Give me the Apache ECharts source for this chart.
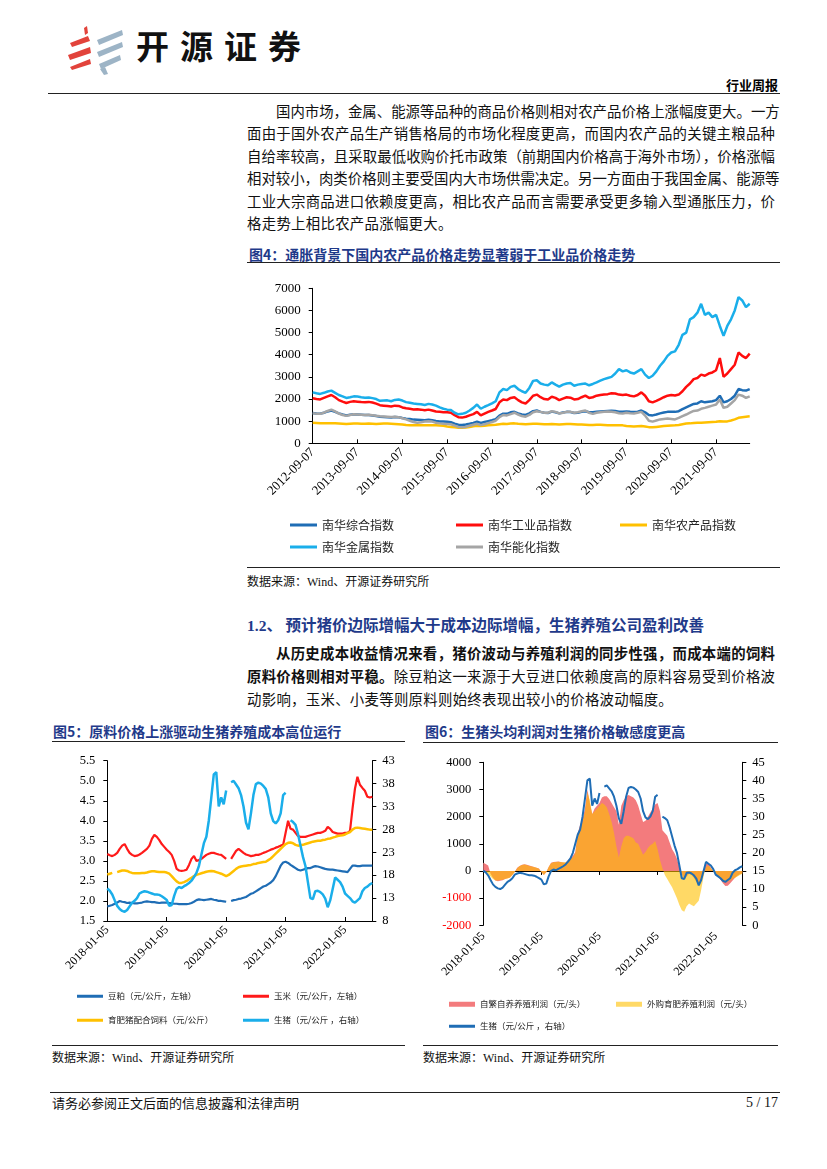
<!DOCTYPE html>
<html lang="zh-CN">
<head>
<meta charset="utf-8">
<title>行业周报</title>
<script src="https://cdn.jsdelivr.net/npm/echarts@6.0.0/dist/echarts.min.js"></script>
<style>
html,body{margin:0;padding:0;background:#fff;}
body{width:827px;height:1169px;position:relative;overflow:hidden;font-family:"Noto Sans CJK SC",sans-serif;color:#000;}
.a{position:absolute;white-space:nowrap;}
.ln{position:absolute;height:18px;line-height:18px;font-size:14.4px;text-align:justify;text-align-last:justify;white-space:nowrap;color:#111;}
.hr{position:absolute;height:0;border-top:1.5px solid #222;}
.ttl{position:absolute;white-space:nowrap;font-size:14px;line-height:16px;font-weight:bold;color:#1F3A8A;}
.src{position:absolute;white-space:nowrap;font-size:12px;line-height:14px;color:#111;}
.lat{font-family:"Liberation Serif",serif;}
#c{position:absolute;left:0;top:0;width:827px;height:1169px;}
</style>
</head>
<body>
<!-- header -->
<svg class="a" style="left:64px;top:24px" width="64" height="52" viewBox="0 0 64 52">
  <polygon points="20,4 23,2 24,9 21,11" fill="#E2433B"/>
  <polygon points="6,19 24,12 26,17 8,23" fill="#E2433B"/>
  <polygon points="4,31 26,23 27,29 6,36" fill="#E2433B"/>
  <polygon points="6,43 26,35 27,40 8,46" fill="#E2433B"/>
  <polygon points="33,16 58,6 59,11 35,21" fill="#9DB4C6"/>
  <polygon points="33,28 58,18 59,23 35,33" fill="#9DB4C6"/>
  <polygon points="35,40 56,31 57,36 37,45" fill="#9DB4C6"/>
  <polygon points="36,45 41,43 44,50 40,51" fill="#9DB4C6"/>
</svg>
<div class="a" style="left:136px;top:28px;font-size:33px;line-height:34px;font-weight:bold;letter-spacing:11px;color:#111;">开源证券</div>
<div class="a" style="right:49px;top:77px;font-size:13px;line-height:15px;font-weight:bold;">行业周报</div>
<div class="hr" style="left:48px;top:93px;width:732px;"></div>

<!-- paragraph 1 -->
<div class="ln" style="left:276px;width:499px;top:102px;">国内市场，金属、能源等品种的商品价格则相对农产品价格上涨幅度更大。一方</div>
<div class="ln" style="left:247px;width:528px;top:124px;">面由于国外农产品生产销售格局的市场化程度更高，而国内农产品的关键主粮品种</div>
<div class="ln" style="left:247px;width:528px;top:147px;">自给率较高，且采取最低收购价托市政策（前期国内价格高于海外市场），价格涨幅</div>
<div class="ln" style="left:247px;width:528px;top:169px;">相对较小，肉类价格则主要受国内大市场供需决定。另一方面由于我国金属、能源等</div>
<div class="ln" style="left:247px;width:528px;top:192px;">工业大宗商品进口依赖度更高，相比农产品而言需要承受更多输入型通胀压力，价</div>
<div class="a" style="left:247px;top:214px;height:18px;line-height:18px;font-size:14.4px;letter-spacing:0.3px;color:#111;">格走势上相比农产品涨幅更大。</div>

<!-- figure 4 -->
<div class="ttl" style="left:249px;top:246px;">图4：通胀背景下国内农产品价格走势显著弱于工业品价格走势</div>
<div class="hr" style="left:247px;top:262px;width:533px;"></div>
<div class="hr" style="left:247px;top:567px;width:533px;border-top-width:1.2px;"></div>
<div class="src" style="left:247px;top:574px;">数据来源：<span class="lat">Wind</span>、开源证券研究所</div>

<!-- section 1.2 -->
<div class="a" style="left:247px;top:615px;font-size:15.5px;line-height:18px;font-weight:bold;color:#1F3A8A;"><span class="lat">1.2</span>、 预计猪价边际增幅大于成本边际增幅，生猪养殖公司盈利改善</div>
<div class="ln" style="left:276px;width:499px;top:644px;font-weight:bold;">从历史成本收益情况来看，猪价波动与养殖利润的同步性强，而成本端的饲料</div>
<div class="ln" style="left:247px;width:528px;top:667px;"><b>原料价格则相对平稳。</b>除豆粕这一来源于大豆进口依赖度高的原料容易受到价格波</div>
<div class="a" style="left:247px;top:690px;height:18px;line-height:18px;font-size:14.4px;letter-spacing:0.3px;color:#111;">动影响，玉米、小麦等则原料则始终表现出较小的价格波动幅度。</div>

<!-- figure 5 / 6 titles -->
<div class="ttl" style="left:53px;top:723px;">图5：原料价格上涨驱动生猪养殖成本高位运行</div>
<div class="hr" style="left:52px;top:741px;width:353px;"></div>
<div class="ttl" style="left:425px;top:723px;">图6：生猪头均利润对生猪价格敏感度更高</div>
<div class="hr" style="left:423px;top:742px;width:355px;"></div>
<div class="hr" style="left:52px;top:1045px;width:353px;border-top-width:1.2px;"></div>
<div class="src" style="left:52px;top:1050px;">数据来源：<span class="lat">Wind</span>、开源证券研究所</div>
<div class="hr" style="left:423px;top:1045px;width:355px;border-top-width:1.2px;"></div>
<div class="src" style="left:423px;top:1050px;">数据来源：<span class="lat">Wind</span>、开源证券研究所</div>

<!-- footer -->
<div class="hr" style="left:50px;top:1092px;width:730px;"></div>
<div class="a" style="left:52px;top:1095px;font-size:13px;line-height:16px;color:#111;">请务必参阅正文后面的信息披露和法律声明</div>
<div class="a lat" style="right:49px;top:1095px;font-size:14px;line-height:16px;color:#111;">5 / 17</div>

<div id="c"></div>
<script>
// ---------- Figure 4: Nanhua indices, monthly, 2012-09 .. 2022-06 ----------
const cats4 = [];
for (let y = 2012; y <= 2022; y++) {
  for (let m = 1; m <= 12; m++) {
    if (y === 2012 && m < 9) continue;
    if (y === 2022 && m > 6) break;
    cats4.push(y + '-' + String(m).padStart(2, '0') + '-07');
  }
}
const names4 = ['南华综合指数', '南华工业品指数', '南华农产品指数', '南华金属指数', '南华能化指数'];
const nhComposite = [
  1370,1350,1340,1380,
  1440,1480,1420,1350,1300,1260,1290,1310,1300,1290,1280,1280,
  1260,1230,1200,1190,1180,1170,1190,1180,1140,1110,1100,1070,
  1060,1050,1040,1060,1040,1010,990,980,970,950,890,840,
  830,850,880,920,980,920,960,1000,1040,1090,1250,1340,
  1330,1400,1420,1350,1300,1280,1350,1450,1480,1420,1380,1370,
  1430,1400,1350,1390,1420,1410,1370,1380,1420,1450,1400,1400,
  1420,1440,1450,1460,1470,1460,1430,1420,1440,1420,1410,1430,
  1480,1400,1280,1260,1300,1350,1390,1420,1430,1420,1450,1540,
  1620,1700,1780,1800,1900,1850,1880,1900,1950,2150,1850,1900,
  2000,2150,2450,2400,2380,2450];
const nhIndustrial = [
  2030,2000,1980,2050,
  2120,2180,2080,1950,1880,1820,1870,1900,1880,1860,1850,1870,
  1840,1790,1720,1700,1680,1660,1700,1690,1620,1580,1560,1530,
  1540,1520,1490,1520,1480,1440,1420,1400,1400,1380,1270,1180,
  1160,1200,1260,1320,1420,1260,1340,1420,1480,1550,1850,1980,
  1950,2050,2080,1950,1850,1800,1950,2150,2200,2080,2000,1980,
  2100,2050,1950,2020,2080,2060,1980,2000,2080,2150,2050,2080,
  2150,2180,2200,2220,2260,2250,2200,2180,2200,2150,2120,2180,
  2300,2150,1900,1850,1920,2000,2080,2150,2180,2160,2200,2350,
  2550,2700,2900,2950,3100,3050,3150,3200,3300,3850,3000,3150,
  3350,3550,4100,3950,3850,4050];
const nhAgri = [
  930,920,910,900,
  900,910,900,890,880,870,880,890,890,880,880,890,
  880,870,880,890,890,880,870,860,850,830,820,820,
  830,820,810,820,820,810,800,790,760,740,720,700,
  700,710,740,770,790,780,790,810,830,840,860,880,
  870,890,900,880,870,860,870,880,880,870,860,860,
  870,860,850,860,870,870,860,850,850,840,830,830,
  840,840,830,820,820,820,810,810,780,770,760,770,
  780,760,730,720,740,760,780,790,800,810,830,860,
  890,900,920,930,930,940,950,960,970,1000,980,990,
  1030,1080,1150,1180,1200,1220];
const nhMetal = [
  2300,2260,2230,2280,
  2340,2380,2280,2180,2120,2050,2080,2120,2110,2080,2060,2070,
  2040,2000,1920,1930,1940,1900,1960,1980,1930,1860,1830,1800,
  1780,1760,1730,1780,1750,1700,1620,1560,1520,1500,1380,1310,
  1330,1380,1480,1600,1750,1560,1650,1720,1800,1900,2300,2450,
  2400,2550,2600,2450,2350,2280,2500,2820,2850,2700,2650,2620,
  2750,2650,2560,2650,2700,2720,2600,2650,2680,2700,2620,2680,
  2750,2830,2900,2950,3000,3150,3350,3250,3300,3200,3150,3250,
  3350,3100,2950,3050,3250,3500,3700,3950,4100,4150,4450,4900,
  5000,5600,5700,5900,6300,5800,5900,5700,5800,5300,4850,5300,
  5600,6000,6600,6450,6150,6300];
const nhEnergy = [
  1360,1340,1330,1380,
  1460,1520,1440,1340,1280,1240,1280,1310,1300,1290,1280,1290,
  1270,1240,1220,1210,1200,1190,1200,1180,1130,1080,1020,960,
  930,950,980,1000,980,930,900,880,870,860,800,740,
  720,740,790,840,880,820,860,910,960,1020,1180,1280,
  1260,1320,1380,1300,1230,1200,1280,1400,1450,1420,1380,1380,
  1450,1420,1350,1380,1420,1420,1380,1400,1450,1480,1380,1330,
  1380,1400,1420,1440,1420,1400,1360,1350,1380,1360,1350,1380,
  1420,1250,1020,980,1030,1080,1100,1120,1100,1080,1150,1230,
  1300,1380,1460,1480,1560,1600,1650,1700,1750,1980,1600,1650,
  1800,1950,2200,2150,2050,2120];
const colors4 = ['#1F6DB5', '#FF0D0D', '#FFC000', '#1AAEEA', '#A5A5A5'];

// ---------- Figures 5 & 6: semi-monthly, 2018-01 .. 2022-06 ----------
const cats56 = [];
for (let y = 2018; y <= 2022; y++) {
  for (let m = 1; m <= 12; m++) {
    if (y === 2022 && m > 6) break;
    const mm = String(m).padStart(2, '0');
    cats56.push(y + '-' + mm + '-05');
    cats56.push(y + '-' + mm + '-20');
  }
}
const names5 = ['豆粕（元/公斤，左轴）', '玉米（元/公斤，左轴）', '育肥猪配合饲料（元/公斤）', '生猪（元/公斤 ，右轴）'];
const soymeal = [
  1.86,1.88,1.90,1.93,1.96,2.00,1.98,1.97,1.95,1.96,1.95,1.94,
  1.94,1.95,1.96,1.98,1.99,1.98,1.97,1.97,1.96,1.95,1.96,1.96,
  1.96,1.95,1.94,1.93,1.93,1.92,1.92,1.92,1.92,1.93,1.95,1.98,
  2.02,2.04,2.03,2.02,2.03,2.04,2.05,2.03,2.02,2.00,2.00,1.99,
  1.98,null,2.00,2.02,2.03,2.05,2.06,2.08,2.10,2.14,2.18,2.20,
  2.24,2.28,2.32,2.36,2.38,2.42,2.46,2.52,2.62,2.75,2.88,2.96,
  2.98,2.95,2.90,2.86,2.82,2.78,2.76,2.78,2.80,2.82,2.82,2.85,
  2.87,2.86,2.84,2.82,2.80,2.79,2.78,2.78,2.77,2.76,2.75,2.74,
  2.73,2.72,2.80,2.88,2.88,2.87,2.87,2.88,2.88,2.88,2.88,2.88];
const corn = [
  3.17,3.14,3.12,3.15,3.20,3.30,3.38,3.42,3.30,3.20,3.15,3.12,
  3.13,3.16,3.20,3.25,3.30,3.38,3.55,3.65,3.60,3.52,3.42,3.35,
  3.28,3.22,3.15,3.00,2.80,2.76,2.75,2.76,2.78,2.90,3.05,3.12,
  3.00,3.02,3.05,3.10,3.15,3.18,3.20,3.20,3.18,3.16,3.15,3.10,
  3.05,null,3.05,3.15,3.25,3.30,3.25,3.20,3.16,3.14,3.12,3.13,
  3.15,3.15,3.17,3.20,3.22,3.25,3.28,3.30,3.33,3.35,3.38,3.40,
  3.70,4.00,3.80,3.78,3.70,3.62,3.60,3.60,3.60,3.62,3.64,3.66,
  3.68,3.70,3.70,3.72,3.75,3.85,3.80,3.72,3.70,3.68,3.68,3.68,
  3.70,3.70,3.75,4.30,4.80,5.10,4.90,4.82,4.75,4.60,4.58,4.60];
const feed = [
  2.66,2.68,2.70,null,2.72,2.74,2.76,2.76,2.75,2.72,2.70,2.69,
  2.69,2.69,2.70,2.70,2.71,2.73,2.74,2.74,2.73,2.72,2.72,2.72,
  2.71,2.68,2.62,2.55,2.49,2.45,2.45,2.47,2.50,2.54,2.58,2.62,
  2.65,2.67,2.69,2.71,2.73,2.74,2.75,2.74,2.72,2.70,2.68,2.65,
  2.62,2.65,2.70,2.75,2.80,2.84,2.86,2.87,2.88,2.89,2.90,2.92,
  2.93,2.95,2.96,2.97,2.98,3.02,3.06,3.12,3.18,3.24,3.30,3.36,
  3.42,3.45,3.46,3.44,3.40,3.38,3.39,3.40,3.42,3.44,3.46,3.48,
  3.49,3.50,3.50,3.52,3.53,3.55,3.56,3.58,3.60,3.62,3.63,3.64,
  3.66,3.69,3.72,3.78,3.82,3.83,3.82,3.81,3.80,3.79,3.78,3.78];
const hogPrice = [
  15.1,14.6,13.8,12.5,11.3,10.6,10.2,10.0,10.4,11.2,12.0,12.4,
  13.0,14.0,14.3,14.5,14.4,14.2,14.0,13.8,13.8,13.7,13.4,13.0,
  12.6,11.3,11.5,13.5,15.0,15.4,15.2,15.6,15.9,16.3,16.8,17.6,
  18.5,20.0,22.5,25.0,26.4,30.0,35.0,40.0,40.5,33.0,35.0,33.5,
  36.5,null,38.3,38.6,37.8,37.0,35.5,33.0,29.5,28.0,31.5,35.5,
  37.9,38.2,38.0,37.5,36.8,35.0,31.5,29.8,29.3,30.0,31.5,35.5,
  36.0,null,30.0,29.6,29.0,27.0,24.5,22.0,20.0,16.5,13.0,12.8,
  14.5,14.6,14.3,13.8,12.9,11.0,12.5,15.0,17.5,17.0,16.5,15.5,
  14.0,13.5,13.0,12.3,12.0,12.5,13.0,14.5,15.2,15.5,16.0,16.3];
const colors5 = ['#1F6DB5', '#FF1A1A', '#FFC000', '#1AAEEA'];

const names6 = ['自繁自养养殖利润（元/头）', '外购育肥养殖利润（元/头）', '生猪（元/公斤\u00A0，右轴）'];
const profitSelfBred = [
  300,260,200,-100,-250,-350,-380,-360,-340,-300,-270,-240,
  -150,-30,120,180,230,250,230,200,170,150,120,90,
  -50,-150,-50,150,300,330,340,350,330,310,300,400,
  480,550,700,1400,1700,1900,2300,3000,2500,2100,2300,2400,
  2500,2700,2750,2750,2650,2500,2350,2200,1700,2400,2600,2750,
  2800,2750,2700,2600,2400,2100,1800,1850,2000,2150,2300,2450,
  2500,2200,1500,1400,1300,1050,800,650,450,150,-100,-300,
  -200,-100,-150,-250,-400,-500,-300,0,250,300,120,0,
  -100,-200,-320,-450,-550,-540,-450,-350,-250,-180,-120,-80];
const profitPurchased = [
  0,-50,-100,-200,-300,-350,-350,-330,-320,-300,-280,-250,
  -150,-50,100,180,220,240,220,180,160,150,120,80,
  -50,-150,-50,150,280,320,330,340,330,320,320,380,
  450,500,650,1300,1600,1800,2200,2900,2600,2100,2200,2300,
  2400,2500,2450,2350,2100,1800,1400,900,500,900,1200,1300,
  1300,1250,1200,1050,1000,800,600,700,850,950,1000,1100,
  800,400,100,-150,-300,-450,-600,-800,-1000,-1250,-1450,-1500,
  -1300,-1200,-1250,-1300,-1200,-1100,-700,-200,150,200,100,0,
  -100,-200,-300,-380,-420,-400,-350,-300,-250,-200,-150,-100];
const colors6 = ['#F37B7D', 'rgba(255,192,0,0.6)', '#1F6DB5'];

// ---------- chart ----------
const SERIF = 'Liberation Serif';
const CJK = 'Noto Sans CJK SC';
const blackLine = { show: true, lineStyle: { color: '#000', width: 1 } };

function line(name, data, color, xi, yi, w) {
  return { name, type: 'line', data, xAxisIndex: xi, yAxisIndex: yi, symbol: 'none', showSymbol: false,
    connectNulls: false, lineStyle: { color, width: w }, itemStyle: { color }, silent: true, animation: false };
}
function area(name, data, color, xi, yi) {
  return { name, type: 'line', data, xAxisIndex: xi, yAxisIndex: yi, symbol: 'none', showSymbol: false,
    lineStyle: { width: 0, color }, itemStyle: { color }, areaStyle: { color, opacity: 1 }, silent: true, animation: false };
}
function leg(name, left, top, fs, iw, ih) {
  return { data: [name], left, top, padding: 0, itemWidth: iw, itemHeight: ih, icon: 'rect', itemGap: 0,
    selectedMode: false, textStyle: { fontFamily: CJK, fontSize: fs, color: '#222', padding: [0, 0, 0, 0] } };
}
function xCat(gi, data, interval, fs) {
  return { gridIndex: gi, type: 'category', data, boundaryGap: false,
    axisLine: blackLine, axisTick: { show: true, interval, length: 4, inside: true, lineStyle: { color: '#000' } },
    axisLabel: { interval, rotate: 45, fontFamily: SERIF, fontSize: fs, color: '#000', margin: 7 },
    splitLine: { show: false } };
}
function yVal(gi, min, max, interval, pos, fmt, fs, margin) {
  return { gridIndex: gi, type: 'value', min, max, interval, position: pos,
    axisLine: blackLine, axisTick: { show: true, length: 4, inside: false, lineStyle: { color: '#000' } },
    splitLine: { show: false },
    axisLabel: { fontFamily: SERIF, fontSize: fs, color: '#000', margin, formatter: fmt,
      rich: { r: { color: '#FF0000', fontFamily: SERIF, fontSize: fs } } } };
}

const chart = echarts.init(document.getElementById('c'), null, { renderer: 'canvas', width: 827, height: 1169 });
const x56label = xCat(2, cats56, 23, 12);
x56label.axisLine = { show: false, onZero: false };
x56label.axisTick = { show: false };
x56label.axisLabel.margin = 9;
const x56zero = xCat(2, cats56, 23, 12);
x56zero.axisLine = { show: true, onZero: true, onZeroAxisIndex: 3, lineStyle: { color: '#000', width: 1.2 } };
x56zero.axisLabel = { show: false };

chart.setOption({
  backgroundColor: 'transparent',
  animation: false,
  grid: [
    { left: 312.7, top: 288.3, width: 437, height: 155 },
    { left: 107.3, top: 760.7, width: 265, height: 160.3 },
    { left: 483.3, top: 762.3, width: 259, height: 163 }
  ],
  xAxis: [ xCat(0, cats4, 11, 13), xCat(1, cats56, 23, 12), x56label, x56zero ],
  yAxis: [
    yVal(0, 0, 7000, 1000, 'left', v => String(v), 13, 12),
    yVal(1, 1.5, 5.5, 0.5, 'left', v => v.toFixed(1), 12.5, 12),
    yVal(1, 8, 43, 5, 'right', v => String(v), 12.5, 10),
    yVal(2, -2000, 4000, 1000, 'left', v => (v < 0 ? '{r|' + v + '}' : String(v)), 12.5, 12),
    yVal(2, 0, 45, 5, 'right', v => String(v), 12.5, 10)
  ],
  legend: [
    leg(names4[0], 290, 519, 12, 27, 3),
    leg(names4[1], 456, 519, 12, 27, 3),
    leg(names4[2], 620, 519, 12, 27, 3),
    leg(names4[3], 290, 541, 12, 27, 3),
    leg(names4[4], 456, 541, 12, 27, 3),
    leg(names5[0], 77, 992, 8.5, 26, 3),
    leg(names5[1], 243, 992, 8.5, 26, 3),
    leg(names5[2], 77, 1016, 8.5, 26, 3),
    leg(names5[3], 243, 1016, 8.5, 26, 3),
    leg(names6[0], 449, 1000, 8.5, 26, 5),
    leg(names6[1], 616, 1000, 8.5, 26, 5),
    leg(names6[2], 449, 1022, 8.5, 26, 3)
  ],
  series: [
    line(names4[0], nhComposite, colors4[0], 0, 0, 2.5),
    line(names4[1], nhIndustrial, colors4[1], 0, 0, 2.5),
    line(names4[2], nhAgri, colors4[2], 0, 0, 2.5),
    line(names4[3], nhMetal, colors4[3], 0, 0, 2.5),
    line(names4[4], nhEnergy, colors4[4], 0, 0, 2.5),
    line(names5[0], soymeal, colors5[0], 1, 1, 2.2),
    line(names5[1], corn, colors5[1], 1, 1, 2.2),
    line(names5[2], feed, colors5[2], 1, 1, 2.5),
    line(names5[3], hogPrice, colors5[3], 1, 2, 2.5),
    area(names6[0], profitSelfBred, colors6[0], 2, 3),
    area(names6[1], profitPurchased, colors6[1], 2, 3),
    line(names6[2], hogPrice, colors6[2], 2, 4, 2)
  ]
});
</script>
</body>
</html>
